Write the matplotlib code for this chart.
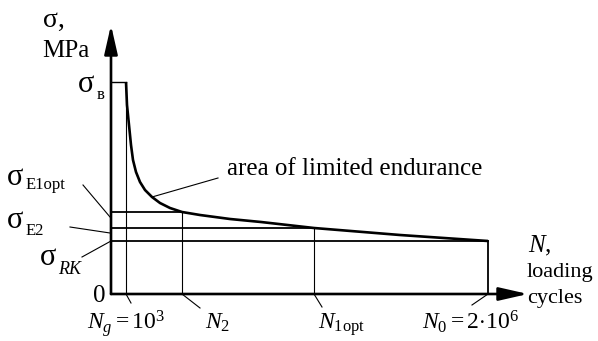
import matplotlib
matplotlib.use("Agg")
import matplotlib.pyplot as plt

plt.rcParams["font.family"] = ["Liberation Serif", "DejaVu Serif"]
plt.rcParams["mathtext.fontset"] = "custom"
plt.rcParams["mathtext.rm"] = "Liberation Serif"
plt.rcParams["mathtext.it"] = "Liberation Serif:italic"

# schematic fatigue curve (N position, stress level), arbitrary units
curve_n = [15, 16, 18, 20, 22, 25, 29, 34, 41, 49, 59, 71, 89, 119, 150, 203, 289, 377]
curve_s = [212, 189, 169, 149, 134, 122, 112, 104, 97, 91, 86, 82, 79, 75, 72, 66, 59, 53]

# characteristic cycle counts and stress levels
n_marks = {"Ng": 15, "N2": 71, "N1opt": 203, "N0": 377}
s_levels = {"sB": 212, "sE1opt": 82, "sE2": 66, "sRK": 53}

fig = plt.figure(figsize=(5.98, 3.41), dpi=100)
ax = fig.add_axes([0, 0, 1, 1])
ax.set_xlim(-111, 487)
ax.set_ylim(-47, 294)
ax.axis("off")

# axes with arrows
arr = dict(arrowstyle="-|>,head_length=1.1,head_width=0.25", lw=1.9, color="k",
           mutation_scale=16, shrinkA=0, shrinkB=0)
ax.annotate("", xy=(0, 269), xytext=(0, 0), arrowprops=arr)
ax.annotate("", xy=(417, 0), xytext=(0, 0), arrowprops=arr)

# curve
ax.plot(curve_n, curve_s, color="k", lw=1.9, solid_capstyle="butt")

# guide lines
ax.plot([0, n_marks["Ng"]], [s_levels["sB"]] * 2, color="k", lw=1.0)
ax.plot([0, n_marks["N2"]], [s_levels["sE1opt"]] * 2, color="k", lw=1.3)
ax.plot([0, n_marks["N1opt"]], [s_levels["sE2"]] * 2, color="k", lw=1.3)
ax.plot([0, n_marks["N0"]], [s_levels["sRK"]] * 2, color="k", lw=1.3)
ax.plot([n_marks["Ng"]] * 2, [0, s_levels["sB"]], color="k", lw=0.8)
ax.plot([n_marks["N2"]] * 2, [0, s_levels["sE1opt"]], color="k", lw=0.8)
ax.plot([n_marks["N1opt"]] * 2, [0, s_levels["sE2"]], color="k", lw=0.8)
ax.plot([n_marks["N0"]] * 2, [0, s_levels["sRK"]], color="k", lw=1.3)

# leader lines
lw_l = 0.8
ax.plot([-28, -1], [109, 77], color="k", lw=lw_l)
ax.plot([-41, -1], [67, 61], color="k", lw=lw_l)
ax.plot([-29, 0], [37, 53], color="k", lw=lw_l)
ax.plot([n_marks["Ng"], 20], [0, -9], color="k", lw=lw_l)
ax.plot([n_marks["N2"], 89], [0, -14], color="k", lw=lw_l)
ax.plot([n_marks["N1opt"], 211], [0, -13], color="k", lw=lw_l)
ax.plot([n_marks["N0"], 361], [0, -11], color="k", lw=lw_l)
ax.plot([41, 107], [97, 116], color="k", lw=lw_l)

fs = 18
fs_sig = 22
fs_sub = 12
ax.text(-68, 267, "σ,", fontsize=20, va="baseline")
ax.text(-69, 237, "MPa", fontsize=fs, va="baseline")

# sigma labels: big sigma + small subscript
ax.text(-33, 202, "σ", fontsize=fs_sig, va="baseline")
ax.text(-14, 195, "в", fontsize=fs_sub, va="baseline")
ax.text(-104, 109, "σ", fontsize=fs_sig, va="baseline")
ax.text(-85, 105, "E1opt", fontsize=fs_sub, va="baseline")
ax.text(-104, 66, "σ", fontsize=fs_sig, va="baseline")
ax.text(-85, 59, "E2", fontsize=fs_sub, va="baseline")
ax.text(-71, 29, "σ", fontsize=fs_sig, va="baseline")
ax.text(-53, 20, "RK", fontsize=fs_sub + 1, style="italic", va="baseline")

ax.text(-18, -8, "0", fontsize=fs, va="baseline")
ax.text(-24, -35, r"$N_{g}{=}10^{3}$", fontsize=17, va="baseline")
ax.text(94, -35, r"$N_{2}$", fontsize=17, va="baseline")
ax.text(207, -35, r"$N_{\mathrm{1opt}}$", fontsize=17, va="baseline")
ax.text(311, -35, r"$N_{0}{=}2{\cdot}10^{6}$", fontsize=17, va="baseline")
ax.text(417, 42, r"$N$,", fontsize=fs, va="baseline")
ax.text(416, 17, "loading", fontsize=16, va="baseline")
ax.text(416, -9, "cycles", fontsize=16, va="baseline")
ax.text(116, 119, "area of limited endurance", fontsize=fs, va="baseline")

fig.savefig("out.png", dpi=100)
